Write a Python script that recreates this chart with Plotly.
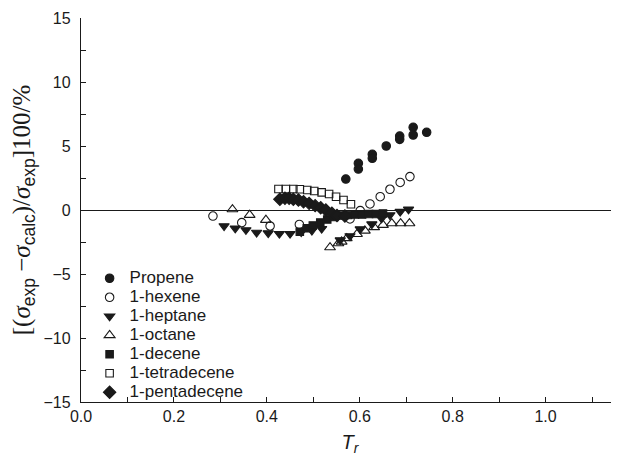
import plotly.graph_objects as go

# ---- data ----
propene_T = [0.570, 0.597, 0.597, 0.627, 0.627, 0.657, 0.686, 0.686, 0.715, 0.715, 0.744]
propene_d = [2.42, 3.65, 3.20, 4.35, 4.04, 5.00, 5.78, 5.52, 6.46, 5.86, 6.07]

hexene_T = [0.284, 0.346, 0.407, 0.470, 0.579, 0.601, 0.622, 0.644, 0.665, 0.687, 0.708]
hexene_d = [-0.47, -0.99, -1.25, -1.13, -0.70, -0.05, 0.47, 1.04, 1.62, 2.15, 2.61]

heptane_T = [0.308, 0.332, 0.355, 0.378, 0.403, 0.427, 0.450, 0.474, 0.497, 0.518,
             0.558, 0.579, 0.601, 0.626, 0.647, 0.665, 0.687, 0.705]
heptane_d = [-1.25, -1.43, -1.56, -1.76, -1.80, -1.85, -1.85, -1.72, -1.60, -1.46,
             -2.35, -2.03, -1.49, -1.10, -0.65, -0.39, -0.13, 0.05]

octane_T = [0.326, 0.363, 0.398, 0.536, 0.554, 0.561, 0.572, 0.594, 0.611, 0.631,
            0.650, 0.669, 0.688, 0.707]
octane_d = [0.05, -0.39, -0.78, -2.92, -2.61, -2.48, -2.21, -1.88, -1.62, -1.35,
            -1.17, -1.04, -1.04, -1.04]

decene_T = [0.471, 0.486, 0.499, 0.515, 0.530, 0.545, 0.560, 0.575, 0.590, 0.605,
            0.620, 0.635, 0.650]
decene_d = [-1.70, -1.43, -1.21, -0.98, -0.74, -0.55, -0.43, -0.39, -0.35, -0.35,
            -0.31, -0.31, -0.27]

tetradecene_T = [0.425, 0.441, 0.457, 0.471, 0.487, 0.502, 0.518, 0.534, 0.549, 0.565, 0.581]
tetradecene_d = [1.64, 1.64, 1.64, 1.62, 1.56, 1.49, 1.38, 1.25, 1.04, 0.78, 0.45]

pentadecene_T = [0.428, 0.439, 0.448, 0.457, 0.468, 0.479, 0.491, 0.504, 0.516, 0.527,
                 0.540, 0.551, 0.568]
pentadecene_d = [0.84, 0.92, 0.92, 0.84, 0.78, 0.65, 0.52, 0.34, 0.18, 0.00,
                 -0.26, -0.43, -0.47]

x_ticks = [0.0, 0.2, 0.4, 0.6, 0.8, 1.0]
y_ticks = [-15, -10, -5, 0, 5, 10, 15]

SANS = "Liberation Sans, Arial, Helvetica, sans-serif"
SERIF = "Liberation Serif, Times New Roman, serif"
INK = "#1a1a1a"

series = [
    ("Propene", propene_T, propene_d, "circle", 8.5, INK),
    ("1-hexene", hexene_T, hexene_d, "circle-open", 8.5, INK),
    ("1-heptane", heptane_T, heptane_d, "triangle-down", 9, INK),
    ("1-octane", octane_T, octane_d, "triangle-up-open", 9.5, INK),
    ("1-decene", decene_T, decene_d, "square", 7.5, INK),
    ("1-tetradecene", tetradecene_T, tetradecene_d, "square-open", 7.5, INK),
    ("1-pentadecene", pentadecene_T, pentadecene_d, "diamond", 9.5, INK),
]

fig = go.Figure()
for name, xs, ys, sym, size, col in series:
    fig.add_trace(go.Scatter(
        x=xs, y=ys, mode="markers",
        name=f"<span style='font-size:17px'>{name}</span>",
        marker=dict(symbol=sym, size=size, color=col,
                    line=dict(color=col, width=1.1)),
    ))

# page body has an 8px default margin: size the figure to fit the 619x456 window
fig.update_layout(
    width=611, height=448,
    margin=dict(l=73, r=0, t=10, b=54, autoexpand=False),
    paper_bgcolor="white", plot_bgcolor="white",
    font=dict(family=SANS, size=16, color=INK),
    showlegend=True,
    legend=dict(x=0.016, y=0.36, xanchor="left", yanchor="top",
                bgcolor="rgba(0,0,0,0)", borderwidth=0,
                font=dict(family=SANS, size=12, color=INK),
                tracegroupgap=0, itemsizing="trace"),
    xaxis=dict(
        range=[0, 1.158], tickvals=x_ticks,
        ticktext=[f"{v:.1f}" for v in x_ticks],
        ticks="inside", ticklen=5, tickwidth=1, tickcolor=INK,
        minor=dict(dtick=0.1, tick0=0, ticks="inside", ticklen=5,
                   tickwidth=1, tickcolor=INK),
        showline=True, linecolor=INK, linewidth=1.3,
        showgrid=False, zeroline=False, automargin=False,
        tickfont=dict(family=SANS, size=16, color=INK),
        title=dict(text="<i>T</i><sub><i>r</i></sub>",
                   font=dict(family=SANS, size=20, color=INK), standoff=15),
    ),
    yaxis=dict(
        range=[-15, 15], tickvals=y_ticks,
        ticks="inside", ticklen=5, tickwidth=1, tickcolor=INK,
        minor=dict(dtick=2.5, tick0=0, ticks="inside", ticklen=5,
                   tickwidth=1, tickcolor=INK),
        showline=True, linecolor=INK, linewidth=1.3,
        showgrid=False, automargin=False,
        zeroline=True, zerolinecolor=INK, zerolinewidth=1.4,
        tickfont=dict(family=SANS, size=16, color=INK),
        ticklabelstandoff=6,
        title=dict(
            text=("[(<i>σ</i><sub><span style='font-family:Liberation Sans'>exp</span></sub>"
                  " −<i>σ</i><sub><span style='font-family:Liberation Sans'>calc</span></sub>)/"
                  "<i>σ</i><sub><span style='font-family:Liberation Sans'>exp</span></sub>]100/%"),
            font=dict(family=SERIF, size=25, color=INK), standoff=6),
    ),
)

fig.write_html("out.html")
